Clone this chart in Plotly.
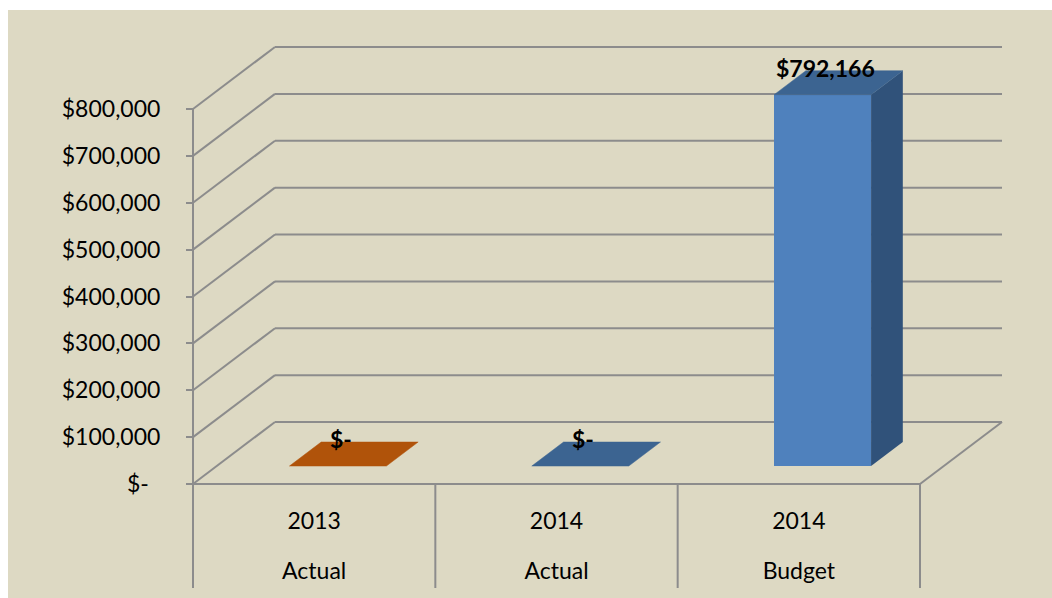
import plotly.graph_objects as go

# ---------------- data ----------------
years = ["2013", "2014", "2014"]
kinds = ["Actual", "Actual", "Budget"]
values = [0, 0, 792166]
front_colors = ["#E46C0A", "#4F81BD", "#4F81BD"]
top_colors = ["#B0530A", "#3C6491", "#3C6491"]
side_colors = ["#8A4107", "#30527A", "#30527A"]
y_tick_vals = [0, 100000, 200000, 300000, 400000, 500000, 600000, 700000, 800000]
y_tick_text = ["$-\u2002", "$100,000", "$200,000", "$300,000", "$400,000",
               "$500,000", "$600,000", "$700,000", "$800,000"]


def money(v):
    return "$-" if v == 0 else f"${v:,.0f}"


# ---------------- geometry (page pixels -> data units) ----------------
PAGE_X0, PAGE_Y0 = 8, 10            # where the chart starts on the page
FIG_W, FIG_H = 1044, 588
PLOT_L, PLOT_R, PLOT_T, PLOT_B = 181, 1012, 40, 592   # plot area on page
AXIS_PX, ZERO_PY = 193, 484         # front y-axis x, zero line y on page
PX_PER_X = 727 / 3.0                # pixels per category
PX_PER_Y = 375 / 800000.0           # pixels per dollar

x0 = -0.5 - (AXIS_PX - PLOT_L) / PX_PER_X
x1 = -0.5 + (PLOT_R - AXIS_PX) / PX_PER_X
y0 = -(PLOT_B - ZERO_PY) / PX_PER_Y
y1 = (ZERO_PY - PLOT_T) / PX_PER_Y

DX = 82 / PX_PER_X                  # full depth offset
DY = 62 / PX_PER_Y
F0, F1 = 0.29, 0.677                # bar front / back depth fractions
BAR_W = 0.4
BELOW = -(588 - ZERO_PY) / PX_PER_Y  # bottom of category dividers
xa_pos = (PLOT_B - 485) / (PLOT_B - PLOT_T)
ya_pos = (-0.5 - x0) / (x1 - x0)

GRID = "#8C8C8C"
BG = "#DDD9C3"
FONT = "Lato"

fig = go.Figure()

# ---------------- walls / floor ----------------
shapes = []
ymax = max(y_tick_vals)
for v in y_tick_vals:
    shapes.append(dict(type="line", x0=-0.5 + DX, x1=2.5 + DX, y0=v + DY, y1=v + DY))
    shapes.append(dict(type="line", x0=-0.5, x1=-0.5 + DX, y0=v, y1=v + DY))
shapes.append(dict(type="line", x0=-0.5, x1=2.5, y0=0, y1=0))
shapes.append(dict(type="line", x0=2.5, x1=2.5 + DX, y0=0, y1=DY))
shapes.append(dict(type="line", x0=-0.5, x1=-0.5, y0=ymax, y1=BELOW))
for i in range(len(values)):
    shapes.append(dict(type="line", x0=i + 0.5, x1=i + 0.5, y0=0, y1=BELOW))
for s in shapes:
    s.update(xref="x", yref="y", layer="below", line=dict(color=GRID, width=2))

# ---------------- bars ----------------
base = F0 * DY
ddx, ddy = (F1 - F0) * DX, (F1 - F0) * DY
xs = [i + F0 * DX for i in range(len(values))]

for i, v in enumerate(values):
    xl, xr = xs[i] - BAR_W / 2, xs[i] + BAR_W / 2
    # side face
    if v > 0:
        fig.add_trace(go.Scatter(
            x=[xr, xr, xr + ddx, xr + ddx, xr],
            y=[base, base + v, base + v + ddy, base + ddy, base],
            fill="toself", fillcolor=side_colors[i], mode="lines",
            line=dict(width=0, color=side_colors[i]), hoverinfo="skip", showlegend=False))
    # top face
    fig.add_trace(go.Scatter(
        x=[xl, xr, xr + ddx, xl + ddx, xl],
        y=[base + v, base + v, base + v + ddy, base + v + ddy, base + v],
        fill="toself", fillcolor=top_colors[i], mode="lines",
        line=dict(width=0.5, color=top_colors[i]), hoverinfo="skip", showlegend=False))

fig.add_trace(go.Bar(
    x=xs, y=values, base=[base] * len(values), width=BAR_W,
    marker=dict(color=front_colors, line=dict(width=0)),
    showlegend=False, hoverinfo="skip"))

# data labels
for i, v in enumerate(values):
    fig.add_annotation(x=xs[i], y=base + v, xref="x", yref="y", text=f"<b>{money(v)}</b>",
                       showarrow=False, yanchor="middle", xanchor="center",
                       yshift=27, xshift=3, font=dict(family=FONT, size=23, color="black"))

fig.update_layout(
    width=FIG_W, height=FIG_H,
    margin=dict(l=PLOT_L - PAGE_X0, r=PAGE_X0 + FIG_W - PLOT_R,
                t=PLOT_T - PAGE_Y0, b=PAGE_Y0 + FIG_H - PLOT_B, pad=0),
    paper_bgcolor=BG, plot_bgcolor=BG,
    font=dict(family=FONT, size=23, color="black"),
    shapes=shapes,
    bargap=0,
    xaxis=dict(range=[x0, x1], anchor="free", position=xa_pos,
               tickvals=list(range(len(values))), ticktext=years,
               showgrid=False, zeroline=False, showline=False, ticks="",
               ticklabelstandoff=20, fixedrange=True),
    xaxis2=dict(range=[x0, x1], overlaying="x", anchor="free", position=xa_pos, side="bottom",
                tickvals=list(range(len(values))), ticktext=kinds,
                showgrid=False, zeroline=False, showline=False, ticks="",
                ticklabelstandoff=70, fixedrange=True),
    yaxis=dict(range=[y0, y1], anchor="free", position=ya_pos,
               tickvals=y_tick_vals, ticktext=y_tick_text,
               showgrid=False, zeroline=False, showline=False,
               ticks="outside", ticklen=7, tickwidth=2, tickcolor=GRID,
               ticklabelstandoff=21, fixedrange=True),
)
# dummy invisible trace so xaxis2 renders
fig.add_trace(go.Scatter(x=[x0], y=[0], xaxis="x2", mode="markers",
                         marker=dict(opacity=0), hoverinfo="skip", showlegend=False))

fig.write_html("out.html", config={"displayModeBar": False},
               post_script="document.body.style.margin='10px 0 0 8px';"
                           "document.body.style.overflow='hidden';")
